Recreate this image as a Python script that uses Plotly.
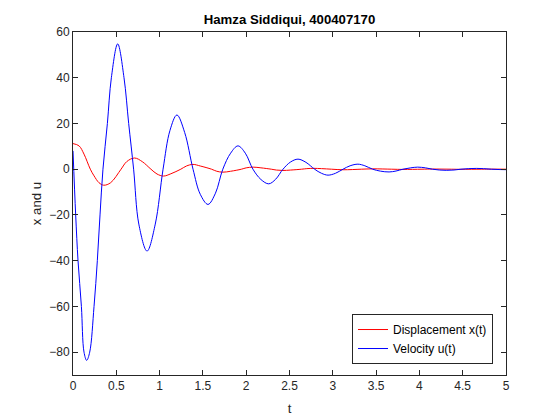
import plotly.graph_objects as go

# Velocity u(t)
t_u = [0, 0.031, 0.058, 0.097, 0.127, 0.158, 0.193, 0.243, 0.281, 0.312, 0.346,
       0.397, 0.443, 0.516, 0.589, 0.643, 0.70, 0.76, 0.855, 0.95, 1.04,
       1.12, 1.20, 1.29, 1.386, 1.47, 1.559, 1.645, 1.73, 1.82, 1.905,
       1.99, 2.078, 2.17, 2.26, 2.34, 2.425, 2.51, 2.598, 2.69, 2.79,
       2.87, 2.945, 3.03, 3.118, 3.20, 3.29, 3.37, 3.46, 3.55, 3.65,
       3.73, 3.81, 3.90, 3.98, 4.07, 4.15, 4.23, 4.31, 4.40, 4.48,
       4.57, 4.66, 4.74, 4.83, 4.92, 5.0]
u_vals = [8, -20, -40, -60, -80, -83.6, -80, -60, -40, -20, 0,
          20, 40, 54.8, 40, 20, 0, -24, -35.8, -24, 0,
          17, 23.7, 16, 0, -11, -15.4, -10.5, 0, 7, 10.2,
          7, 0, -4.5, -6.4, -4.4, 0, 3.1, 4.4, 3, 0,
          -1.8, -2.6, -1.8, 0, 1.5, 2.2, 1.5, 0, -0.85, -1.2,
          -0.8, 0, 0.6, 0.9, 0.6, 0, -0.35, -0.5, -0.35, 0,
          0.25, 0.35, 0.25, 0, -0.15, -0.2]

# Displacement x(t)
t_x = [0, 0.07, 0.127, 0.20, 0.243, 0.30, 0.355, 0.435, 0.555, 0.62, 0.71,
       0.80, 0.90, 0.97, 1.045, 1.13, 1.245, 1.31, 1.386, 1.47, 1.60,
       1.66, 1.73, 1.82, 1.945, 2.0, 2.08, 2.17, 2.29, 2.35, 2.425,
       2.51, 2.64, 2.70, 2.78, 2.87, 2.985, 3.12, 3.33, 3.46, 3.68,
       3.81, 4.03, 4.15, 4.37, 4.48, 4.72, 4.83, 5.0]
x_vals = [11.2, 10.2, 6.6, 0, -2.9, -5.9, -7.0, -5.9, 0, 3.3, 4.9,
          3.3, 0, -2.1, -3.0, -2.0, 0, 1.4, 2.1, 1.4, 0,
          -0.9, -1.3, -0.9, 0, 0.6, 0.9, 0.6, 0, -0.38, -0.55,
          -0.38, 0, 0.25, 0.37, 0.25, 0, -0.24, 0, 0.16, 0,
          -0.1, 0, 0.07, 0, -0.05, 0, 0.03, 0]

x_ticks = [0, 0.5, 1, 1.5, 2, 2.5, 3, 3.5, 4, 4.5, 5]
y_ticks = [-80, -60, -40, -20, 0, 20, 40, 60]

AX = "#262626"
FONT = "Liberation Sans, Arial, sans-serif"

fig = go.Figure()
fig.add_trace(go.Scatter(x=t_x, y=x_vals, mode="lines", name="Displacement x(t)",
                         line=dict(color="#FF0000", width=1, shape="spline", smoothing=1.0)))
fig.add_trace(go.Scatter(x=t_u, y=u_vals, mode="lines", name="Velocity u(t)",
                         line=dict(color="#0000FF", width=1, shape="spline", smoothing=1.0)))

axis_common = dict(showgrid=False, zeroline=False, showline=True, linecolor=AX, linewidth=1,
                   mirror="ticks", ticks="inside", ticklen=5, tickcolor=AX, tickwidth=1,
                   tickfont=dict(family=FONT, size=12, color=AX))

# the page body adds an 8px offset, compensated in the margins
fig.update_layout(
    width=560, height=420,
    paper_bgcolor="white", plot_bgcolor="white",
    margin=dict(l=65, r=62, t=24, b=53),
    title=dict(text="<b>Hamza Siddiqui, 400407170</b>", x=(65 + 498) / 2 / 560, xanchor="center",
               y=1 - 11 / 420, yanchor="middle",
               font=dict(family=FONT, size=13.2, color="black")),
    xaxis=dict(range=[0, 5], tickvals=x_ticks,
               title=dict(text="t", font=dict(family=FONT, size=13.2, color=AX), standoff=11),
               **axis_common),
    yaxis=dict(range=[-90, 60], tickvals=y_ticks,
               title=dict(text="x and u", font=dict(family=FONT, size=13.2, color=AX), standoff=4),
               **axis_common),
    legend=dict(x=0.97, y=0.032, xanchor="right", yanchor="bottom",
                bgcolor="white", bordercolor=AX, borderwidth=1,
                font=dict(family=FONT, size=12, color="black"),
                tracegroupgap=0, itemwidth=30),
    showlegend=True,
)

fig.write_html("out.html")
